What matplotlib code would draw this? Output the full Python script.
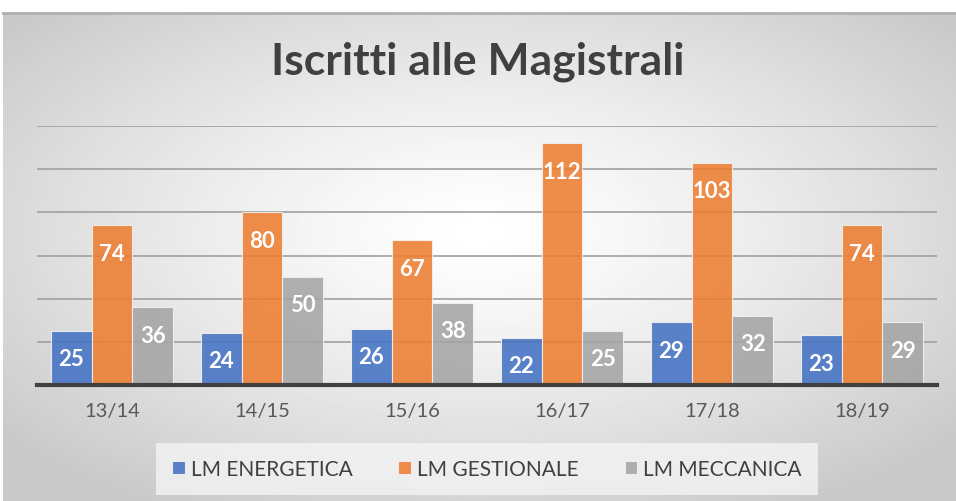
import numpy as np
import matplotlib.pyplot as plt

anni = ["13/14", "14/15", "15/16", "16/17", "17/18", "18/19"]
energetica = [25, 24, 26, 22, 29, 23]
gestionale = [74, 80, 67, 112, 103, 74]
meccanica = [36, 50, 38, 25, 32, 29]
serie = ["LM ENERGETICA", "LM GESTIONALE", "LM MECCANICA"]
colori = ["#4472C4", "#ED7D31", "#A5A5A5"]

plt.rcParams['font.family'] = ['Lato', 'DejaVu Sans']

fig = plt.figure(figsize=(9.56, 5.02), dpi=100)

# sfondo con gradiente radiale (riquadro del grafico)
bg = fig.add_axes([3 / 956, 0, 953 / 956, 488 / 502], zorder=0)
yy, xx = np.mgrid[-1:1:300j, -1:1:600j]
d = np.sqrt(xx ** 2 + (yy + 0.1) ** 2)
img = 1.0 - 0.21 * np.clip(d / 1.3, 0, 1) ** 1.3
bg.imshow(img, cmap="gray", vmin=0, vmax=1, aspect="auto", extent=[0, 1, 0, 1])
bg.plot([0, 1], [1, 1], color="#b0b0b0", lw=2, transform=bg.transAxes, clip_on=False)
bg.set_axis_off()

ax = fig.add_axes([37 / 956, 1 - 386 / 502, 900 / 956, 259 / 502], zorder=1)
ax.patch.set_alpha(0)

x = np.arange(len(anni))
w = 0.272
for i, (vals, col) in enumerate(zip([energetica, gestionale, meccanica], colori)):
    pos = x + (i - 1) * w
    bars = ax.bar(pos, vals, w, color=col, alpha=0.88, edgecolor="#f2f2f2",
                  linewidth=0.8, label=serie[i], zorder=3)
    for b, v in zip(bars, vals):
        ax.annotate(str(v), (b.get_x() + b.get_width() / 2, v), xytext=(0, -20),
                    textcoords="offset points", ha="center", va="center",
                    color="white", fontsize=16, fontweight="bold", zorder=4)

ax.set_xlim(-0.5, len(anni) - 0.5)
ax.set_ylim(0, 120)
ax.set_yticks(range(0, 121, 20))
ax.yaxis.grid(True, color="#a0a0a0", lw=1.2, zorder=1)
ax.tick_params(axis="y", left=False, labelleft=False)
ax.set_xticks(x)
ax.set_xticklabels(anni, fontsize=14.5, color="#595959")
ax.tick_params(axis="x", length=0, pad=12)
for s in ["top", "right", "left"]:
    ax.spines[s].set_visible(False)
ax.spines["bottom"].set_color("#404040")
ax.spines["bottom"].set_linewidth(3)
ax.spines["bottom"].set_zorder(5)

fig.text(0.5, 1 - 62 / 502, "Iscritti alle Magistrali", ha="center", va="center",
         fontsize=32, fontweight="bold", color="#404040")

leg = fig.legend(loc="center", bbox_to_anchor=(487 / 956, 1 - 470 / 502), ncol=3,
                 frameon=True, fontsize=15, handlelength=0.6, handleheight=0.6,
                 columnspacing=2.2, handletextpad=0.3, borderpad=0.75, fancybox=False)
leg.get_frame().set_facecolor("#f4f4f4")
leg.get_frame().set_edgecolor("none")
leg.get_frame().set_alpha(0.8)
for t in leg.get_texts():
    t.set_color("#404040")

fig.savefig("out.png", dpi=100, facecolor="white")
